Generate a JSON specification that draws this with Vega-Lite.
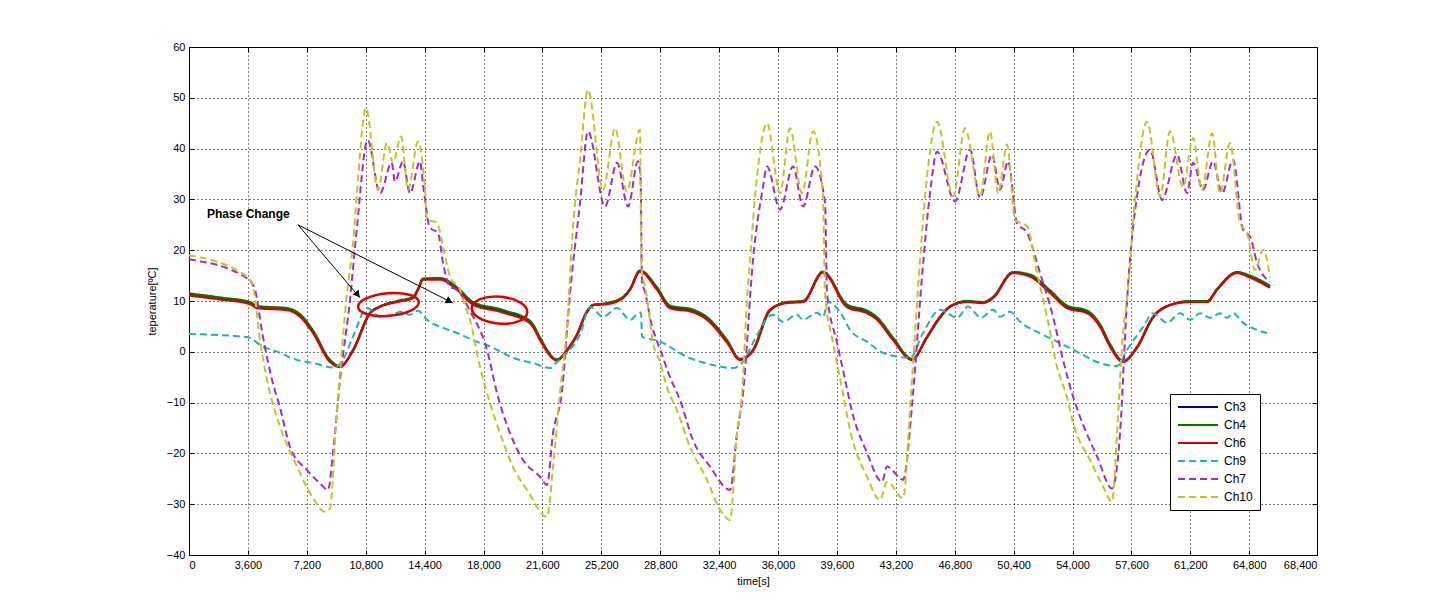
{
  "$schema": "https://vega.github.io/schema/vega-lite/v6.json",
  "width": 1128,
  "height": 508,
  "autosize": {"type": "none"},
  "padding": {"left": 189, "top": 47, "right": 139, "bottom": 44},
  "background": "white",
  "config": {
    "font": "Liberation Sans",
    "view": {"stroke": "black", "strokeWidth": 1},
    "axis": {
      "domain": false,
      "grid": true,
      "gridColor": "black",
      "gridDash": [1, 3],
      "gridOpacity": 1,
      "gridWidth": 1,
      "tickColor": "black",
      "tickSize": -5,
      "labelColor": "black",
      "labelFontSize": 11,
      "labelFont": "Liberation Sans",
      "titleFont": "Liberation Sans",
      "titleFontSize": 11,
      "titleFontWeight": "normal",
      "titleColor": "black"
    },
    "legend": {
      "orient": "none",
      "legendX": 981,
      "legendY": 347,
      "strokeColor": "black",
      "fillColor": "white",
      "padding": 7,
      "symbolType": "M-1,0H7",
      "symbolSize": 100,
      "symbolStrokeWidth": 2,
      "labelOffset": 35,
      "labelFontSize": 12,
      "labelFont": "Liberation Sans",
      "labelColor": "black",
      "rowPadding": 6,
      "title": null
    }
  },
  "resolve": {"axis": {"x": "independent", "y": "independent"}},
  "datasets": {
    "solid": [
      {"t": 0, "Ch3": 11.3, "Ch4": 11.5, "Ch6": 11.1},
      {"t": 1895, "Ch3": 10.5, "Ch4": 10.7, "Ch6": 10.3},
      {"t": 3728, "Ch3": 9.6, "Ch4": 9.8, "Ch6": 9.4},
      {"t": 4156, "Ch3": 8.8, "Ch4": 9.0, "Ch6": 8.6},
      {"t": 5990, "Ch3": 8.4, "Ch4": 8.6, "Ch6": 8.2},
      {"t": 6784, "Ch3": 7.2, "Ch4": 7.4, "Ch6": 6.9},
      {"t": 7579, "Ch3": 4.0, "Ch4": 4.2, "Ch6": 3.7},
      {"t": 8618, "Ch3": -1.8, "Ch4": -1.6, "Ch6": -2.0},
      {"t": 9229, "Ch3": -2.9, "Ch4": -2.8, "Ch6": -3.0},
      {"t": 10024, "Ch3": 0.3, "Ch4": 0.2, "Ch6": 0.4},
      {"t": 11063, "Ch3": 7.6, "Ch4": 7.5, "Ch6": 7.7},
      {"t": 11674, "Ch3": 8.9, "Ch4": 8.9, "Ch6": 8.9},
      {"t": 12713, "Ch3": 9.9, "Ch4": 10.0, "Ch6": 9.8},
      {"t": 13691, "Ch3": 10.7, "Ch4": 10.8, "Ch6": 10.6},
      {"t": 13996, "Ch3": 12.3, "Ch4": 12.4, "Ch6": 12.2},
      {"t": 14302, "Ch3": 14.3, "Ch4": 14.4, "Ch6": 14.2},
      {"t": 15341, "Ch3": 14.4, "Ch4": 14.5, "Ch6": 14.2},
      {"t": 16380, "Ch3": 12.5, "Ch4": 12.7, "Ch6": 12.2},
      {"t": 17358, "Ch3": 9.6, "Ch4": 9.8, "Ch6": 9.3},
      {"t": 19008, "Ch3": 8.2, "Ch4": 8.4, "Ch6": 7.9},
      {"t": 19620, "Ch3": 7.6, "Ch4": 7.8, "Ch6": 7.3},
      {"t": 20231, "Ch3": 7.0, "Ch4": 7.2, "Ch6": 6.7},
      {"t": 21025, "Ch3": 5.2, "Ch4": 5.4, "Ch6": 4.9},
      {"t": 21453, "Ch3": 2.6, "Ch4": 2.8, "Ch6": 2.3},
      {"t": 22492, "Ch3": -1.6, "Ch4": -1.5, "Ch6": -1.7},
      {"t": 23103, "Ch3": 0.3, "Ch4": 0.2, "Ch6": 0.4},
      {"t": 23715, "Ch3": 3.4, "Ch4": 3.3, "Ch6": 3.5},
      {"t": 24326, "Ch3": 7.9, "Ch4": 7.8, "Ch6": 8.0},
      {"t": 24692, "Ch3": 9.2, "Ch4": 9.2, "Ch6": 9.2},
      {"t": 25548, "Ch3": 9.5, "Ch4": 9.6, "Ch6": 9.4},
      {"t": 26526, "Ch3": 10.7, "Ch4": 10.8, "Ch6": 10.6},
      {"t": 26953, "Ch3": 12.3, "Ch4": 12.4, "Ch6": 12.2},
      {"t": 27564, "Ch3": 15.9, "Ch4": 16.0, "Ch6": 15.8},
      {"t": 28604, "Ch3": 12.5, "Ch4": 12.7, "Ch6": 12.2},
      {"t": 29398, "Ch3": 8.9, "Ch4": 9.1, "Ch6": 8.6},
      {"t": 30804, "Ch3": 8.1, "Ch4": 8.3, "Ch6": 7.8},
      {"t": 31660, "Ch3": 6.6, "Ch4": 6.8, "Ch6": 6.3},
      {"t": 32883, "Ch3": 2.1, "Ch4": 2.3, "Ch6": 1.8},
      {"t": 33677, "Ch3": -1.5, "Ch4": -1.4, "Ch6": -1.6},
      {"t": 34472, "Ch3": 0.3, "Ch4": 0.2, "Ch6": 0.4},
      {"t": 35510, "Ch3": 8.2, "Ch4": 8.1, "Ch6": 8.3},
      {"t": 36550, "Ch3": 9.7, "Ch4": 9.8, "Ch6": 9.6},
      {"t": 37528, "Ch3": 9.9, "Ch4": 10.0, "Ch6": 9.8},
      {"t": 38750, "Ch3": 15.7, "Ch4": 15.8, "Ch6": 15.6},
      {"t": 40217, "Ch3": 9.1, "Ch4": 9.3, "Ch6": 8.8},
      {"t": 41439, "Ch3": 7.9, "Ch4": 8.1, "Ch6": 7.6},
      {"t": 42051, "Ch3": 6.6, "Ch4": 6.8, "Ch6": 6.3},
      {"t": 43028, "Ch3": 2.6, "Ch4": 2.8, "Ch6": 2.3},
      {"t": 44190, "Ch3": -1.5, "Ch4": -1.4, "Ch6": -1.6},
      {"t": 45107, "Ch3": 2.9, "Ch4": 2.8, "Ch6": 3.0},
      {"t": 45901, "Ch3": 6.8, "Ch4": 6.7, "Ch6": 6.9},
      {"t": 46512, "Ch3": 8.9, "Ch4": 8.9, "Ch6": 8.9},
      {"t": 47551, "Ch3": 9.9, "Ch4": 10.0, "Ch6": 9.8},
      {"t": 48529, "Ch3": 9.7, "Ch4": 9.8, "Ch6": 9.6},
      {"t": 49140, "Ch3": 10.7, "Ch4": 10.8, "Ch6": 10.6},
      {"t": 50363, "Ch3": 15.6, "Ch4": 15.7, "Ch6": 15.5},
      {"t": 51402, "Ch3": 15.0, "Ch4": 15.2, "Ch6": 14.8},
      {"t": 52624, "Ch3": 11.9, "Ch4": 12.1, "Ch6": 11.6},
      {"t": 53664, "Ch3": 8.9, "Ch4": 9.1, "Ch6": 8.6},
      {"t": 54886, "Ch3": 7.9, "Ch4": 8.1, "Ch6": 7.6},
      {"t": 55680, "Ch3": 5.2, "Ch4": 5.4, "Ch6": 4.9},
      {"t": 56292, "Ch3": 1.3, "Ch4": 1.5, "Ch6": 1.0},
      {"t": 57086, "Ch3": -1.9, "Ch4": -1.8, "Ch6": -2.0},
      {"t": 57942, "Ch3": 0.9, "Ch4": 0.8, "Ch6": 1.0},
      {"t": 58920, "Ch3": 6.8, "Ch4": 6.7, "Ch6": 6.9},
      {"t": 59959, "Ch3": 9.2, "Ch4": 9.2, "Ch6": 9.2},
      {"t": 61181, "Ch3": 9.9, "Ch4": 10.0, "Ch6": 9.8},
      {"t": 62220, "Ch3": 9.9, "Ch4": 10.0, "Ch6": 9.8},
      {"t": 62832, "Ch3": 12.3, "Ch4": 12.4, "Ch6": 12.2},
      {"t": 64055, "Ch3": 15.6, "Ch4": 15.7, "Ch6": 15.5},
      {"t": 64849, "Ch3": 14.8, "Ch4": 15.0, "Ch6": 14.6},
      {"t": 66071, "Ch3": 12.8, "Ch4": 13.0, "Ch6": 12.6}
    ],
    "dashed": [
      {"series": "Ch9", "t": 0, "v": 3.5},
      {"series": "Ch9", "t": 3545, "v": 2.9},
      {"series": "Ch9", "t": 4523, "v": 1.0},
      {"series": "Ch9", "t": 5562, "v": -0.2},
      {"series": "Ch9", "t": 6601, "v": -1.6},
      {"series": "Ch9", "t": 7579, "v": -2.2},
      {"series": "Ch9", "t": 8801, "v": -3.1},
      {"series": "Ch9", "t": 9412, "v": -1.6},
      {"series": "Ch9", "t": 10024, "v": 3.0},
      {"series": "Ch9", "t": 10879, "v": 8.6},
      {"series": "Ch9", "t": 11674, "v": 6.9},
      {"series": "Ch9", "t": 12469, "v": 7.3},
      {"series": "Ch9", "t": 12896, "v": 7.9},
      {"series": "Ch9", "t": 13507, "v": 7.3},
      {"series": "Ch9", "t": 13996, "v": 8.1},
      {"series": "Ch9", "t": 14547, "v": 6.3},
      {"series": "Ch9", "t": 15524, "v": 4.7},
      {"series": "Ch9", "t": 16380, "v": 3.7},
      {"series": "Ch9", "t": 17358, "v": 2.3},
      {"series": "Ch9", "t": 18580, "v": 0.8},
      {"series": "Ch9", "t": 19803, "v": -1.2},
      {"series": "Ch9", "t": 21025, "v": -2.2},
      {"series": "Ch9", "t": 22064, "v": -3.2},
      {"series": "Ch9", "t": 22492, "v": -2.0},
      {"series": "Ch9", "t": 23103, "v": -0.2},
      {"series": "Ch9", "t": 23898, "v": 3.4},
      {"series": "Ch9", "t": 24509, "v": 8.8},
      {"series": "Ch9", "t": 25304, "v": 6.9},
      {"series": "Ch9", "t": 26159, "v": 8.6},
      {"series": "Ch9", "t": 26953, "v": 6.3},
      {"series": "Ch9", "t": 27564, "v": 7.7},
      {"series": "Ch9", "t": 27625, "v": 7.7},
      {"series": "Ch9", "t": 27687, "v": 3.0},
      {"series": "Ch9", "t": 28788, "v": 2.0},
      {"series": "Ch9", "t": 30438, "v": -1.0},
      {"series": "Ch9", "t": 32027, "v": -2.6},
      {"series": "Ch9", "t": 33249, "v": -3.2},
      {"series": "Ch9", "t": 33860, "v": -2.0},
      {"series": "Ch9", "t": 34472, "v": 1.8},
      {"series": "Ch9", "t": 35694, "v": 7.3},
      {"series": "Ch9", "t": 36305, "v": 5.9},
      {"series": "Ch9", "t": 37161, "v": 7.3},
      {"series": "Ch9", "t": 37528, "v": 6.3},
      {"series": "Ch9", "t": 38383, "v": 7.7},
      {"series": "Ch9", "t": 38750, "v": 6.9},
      {"series": "Ch9", "t": 39056, "v": 9.8},
      {"series": "Ch9", "t": 39972, "v": 6.9},
      {"series": "Ch9", "t": 40401, "v": 4.3},
      {"series": "Ch9", "t": 41439, "v": 2.0},
      {"series": "Ch9", "t": 42418, "v": -0.2},
      {"series": "Ch9", "t": 44068, "v": -1.2},
      {"series": "Ch9", "t": 44862, "v": 3.7},
      {"series": "Ch9", "t": 45901, "v": 8.3},
      {"series": "Ch9", "t": 46940, "v": 6.7},
      {"series": "Ch9", "t": 47612, "v": 8.9},
      {"series": "Ch9", "t": 48407, "v": 6.7},
      {"series": "Ch9", "t": 49140, "v": 8.3},
      {"series": "Ch9", "t": 49568, "v": 6.9},
      {"series": "Ch9", "t": 50180, "v": 7.9},
      {"series": "Ch9", "t": 50791, "v": 5.9},
      {"series": "Ch9", "t": 51830, "v": 3.9},
      {"series": "Ch9", "t": 53052, "v": 2.0},
      {"series": "Ch9", "t": 54275, "v": 0.0},
      {"series": "Ch9", "t": 55497, "v": -2.0},
      {"series": "Ch9", "t": 56720, "v": -2.8},
      {"series": "Ch9", "t": 57331, "v": 0.4},
      {"series": "Ch9", "t": 58309, "v": 4.9},
      {"series": "Ch9", "t": 58920, "v": 7.6},
      {"series": "Ch9", "t": 59776, "v": 5.7},
      {"series": "Ch9", "t": 60570, "v": 7.6},
      {"series": "Ch9", "t": 61181, "v": 6.3},
      {"series": "Ch9", "t": 61792, "v": 7.6},
      {"series": "Ch9", "t": 62404, "v": 6.7},
      {"series": "Ch9", "t": 63015, "v": 7.6},
      {"series": "Ch9", "t": 63443, "v": 6.7},
      {"series": "Ch9", "t": 63810, "v": 7.6},
      {"series": "Ch9", "t": 64421, "v": 5.7},
      {"series": "Ch9", "t": 65277, "v": 4.3},
      {"series": "Ch9", "t": 65888, "v": 3.7},

      {"series": "Ch7", "t": 0, "v": 18.2},
      {"series": "Ch7", "t": 3545, "v": 14.5},
      {"series": "Ch7", "t": 4034, "v": 12.2},
      {"series": "Ch7", "t": 4462, "v": 4.0},
      {"series": "Ch7", "t": 5073, "v": -5.5},
      {"series": "Ch7", "t": 5562, "v": -11.0},
      {"series": "Ch7", "t": 6173, "v": -18.7},
      {"series": "Ch7", "t": 7212, "v": -23.3},
      {"series": "Ch7", "t": 8007, "v": -25.9},
      {"series": "Ch7", "t": 8496, "v": -27.2},
      {"series": "Ch7", "t": 8801, "v": -19.9},
      {"series": "Ch7", "t": 9229, "v": -5.5},
      {"series": "Ch7", "t": 9840, "v": 10.2},
      {"series": "Ch7", "t": 10250, "v": 24.0},
      {"series": "Ch7", "t": 10920, "v": 41.7},
      {"series": "Ch7", "t": 11674, "v": 31.2},
      {"series": "Ch7", "t": 12389, "v": 37.2},
      {"series": "Ch7", "t": 12591, "v": 33.5},
      {"series": "Ch7", "t": 13080, "v": 37.5},
      {"series": "Ch7", "t": 13507, "v": 31.2},
      {"series": "Ch7", "t": 14119, "v": 37.5},
      {"series": "Ch7", "t": 14302, "v": 33.0},
      {"series": "Ch7", "t": 14730, "v": 24.4},
      {"series": "Ch7", "t": 15219, "v": 23.4},
      {"series": "Ch7", "t": 15524, "v": 17.5},
      {"series": "Ch7", "t": 15952, "v": 12.8},
      {"series": "Ch7", "t": 16380, "v": 12.2},
      {"series": "Ch7", "t": 17175, "v": 8.0},
      {"series": "Ch7", "t": 18214, "v": 0.4},
      {"series": "Ch7", "t": 18825, "v": -8.1},
      {"series": "Ch7", "t": 19620, "v": -16.0},
      {"series": "Ch7", "t": 20414, "v": -21.3},
      {"series": "Ch7", "t": 21453, "v": -24.6},
      {"series": "Ch7", "t": 21881, "v": -26.2},
      {"series": "Ch7", "t": 22248, "v": -16.0},
      {"series": "Ch7", "t": 22780, "v": -8.2},
      {"series": "Ch7", "t": 23287, "v": 11.5},
      {"series": "Ch7", "t": 23898, "v": 29.3},
      {"series": "Ch7", "t": 24387, "v": 43.4},
      {"series": "Ch7", "t": 25426, "v": 28.6},
      {"series": "Ch7", "t": 26159, "v": 37.2},
      {"series": "Ch7", "t": 26831, "v": 28.6},
      {"series": "Ch7", "t": 27442, "v": 37.5},
      {"series": "Ch7", "t": 27600, "v": 34.0},
      {"series": "Ch7", "t": 27690, "v": 13.0},
      {"series": "Ch7", "t": 27748, "v": 12.8},
      {"series": "Ch7", "t": 28298, "v": 5.0},
      {"series": "Ch7", "t": 28849, "v": 0.0},
      {"series": "Ch7", "t": 29398, "v": -5.0},
      {"series": "Ch7", "t": 30010, "v": -9.5},
      {"series": "Ch7", "t": 30804, "v": -17.4},
      {"series": "Ch7", "t": 31843, "v": -22.6},
      {"series": "Ch7", "t": 33066, "v": -27.2},
      {"series": "Ch7", "t": 33494, "v": -16.1},
      {"series": "Ch7", "t": 33860, "v": -8.2},
      {"series": "Ch7", "t": 34472, "v": 18.1},
      {"series": "Ch7", "t": 35083, "v": 32.5},
      {"series": "Ch7", "t": 35327, "v": 36.5},
      {"series": "Ch7", "t": 36122, "v": 28.0},
      {"series": "Ch7", "t": 36916, "v": 36.5},
      {"series": "Ch7", "t": 37528, "v": 28.6},
      {"series": "Ch7", "t": 38261, "v": 36.5},
      {"series": "Ch7", "t": 38872, "v": 29.3},
      {"series": "Ch7", "t": 38995, "v": 11.5},
      {"series": "Ch7", "t": 39606, "v": 1.8},
      {"series": "Ch7", "t": 40279, "v": -8.2},
      {"series": "Ch7", "t": 40401, "v": -10.1},
      {"series": "Ch7", "t": 41439, "v": -19.9},
      {"series": "Ch7", "t": 42356, "v": -25.6},
      {"series": "Ch7", "t": 42662, "v": -22.6},
      {"series": "Ch7", "t": 43640, "v": -25.2},
      {"series": "Ch7", "t": 44251, "v": -8.2},
      {"series": "Ch7", "t": 44801, "v": 14.8},
      {"series": "Ch7", "t": 45289, "v": 31.2},
      {"series": "Ch7", "t": 45717, "v": 39.4},
      {"series": "Ch7", "t": 46818, "v": 29.6},
      {"series": "Ch7", "t": 47735, "v": 39.8},
      {"series": "Ch7", "t": 48346, "v": 30.3},
      {"series": "Ch7", "t": 49079, "v": 38.8},
      {"series": "Ch7", "t": 49568, "v": 31.9},
      {"series": "Ch7", "t": 50057, "v": 37.5},
      {"series": "Ch7", "t": 50607, "v": 25.3},
      {"series": "Ch7", "t": 51219, "v": 23.4},
      {"series": "Ch7", "t": 52013, "v": 15.5},
      {"series": "Ch7", "t": 52808, "v": 6.9},
      {"series": "Ch7", "t": 53419, "v": -1.6},
      {"series": "Ch7", "t": 54030, "v": -8.8},
      {"series": "Ch7", "t": 54458, "v": -12.8},
      {"series": "Ch7", "t": 55497, "v": -20.6},
      {"series": "Ch7", "t": 56414, "v": -26.9},
      {"series": "Ch7", "t": 56903, "v": -16.0},
      {"series": "Ch7", "t": 57331, "v": 10.2},
      {"series": "Ch7", "t": 58003, "v": 32.0},
      {"series": "Ch7", "t": 58737, "v": 39.8},
      {"series": "Ch7", "t": 59470, "v": 29.9},
      {"series": "Ch7", "t": 60387, "v": 38.8},
      {"series": "Ch7", "t": 60998, "v": 31.2},
      {"series": "Ch7", "t": 61364, "v": 37.2},
      {"series": "Ch7", "t": 61976, "v": 31.9},
      {"series": "Ch7", "t": 62587, "v": 37.5},
      {"series": "Ch7", "t": 63138, "v": 31.2},
      {"series": "Ch7", "t": 63810, "v": 37.8},
      {"series": "Ch7", "t": 64421, "v": 24.0},
      {"series": "Ch7", "t": 64849, "v": 22.7},
      {"series": "Ch7", "t": 65277, "v": 17.5},
      {"series": "Ch7", "t": 66071, "v": 13.8},

      {"series": "Ch10", "t": 0, "v": 19.0},
      {"series": "Ch10", "t": 3545, "v": 14.8},
      {"series": "Ch10", "t": 3912, "v": 12.8},
      {"series": "Ch10", "t": 4340, "v": 2.3},
      {"series": "Ch10", "t": 4767, "v": -5.5},
      {"series": "Ch10", "t": 5562, "v": -14.7},
      {"series": "Ch10", "t": 6601, "v": -22.6},
      {"series": "Ch10", "t": 7579, "v": -28.8},
      {"series": "Ch10", "t": 8312, "v": -31.5},
      {"series": "Ch10", "t": 8618, "v": -30.8},
      {"series": "Ch10", "t": 9027, "v": -12.0},
      {"series": "Ch10", "t": 9229, "v": -4.0},
      {"series": "Ch10", "t": 9636, "v": 10.9},
      {"series": "Ch10", "t": 10044, "v": 22.0},
      {"series": "Ch10", "t": 10250, "v": 30.6},
      {"series": "Ch10", "t": 10818, "v": 48.0},
      {"series": "Ch10", "t": 11552, "v": 31.9},
      {"series": "Ch10", "t": 12102, "v": 41.1},
      {"series": "Ch10", "t": 12469, "v": 37.2},
      {"series": "Ch10", "t": 12960, "v": 42.4},
      {"series": "Ch10", "t": 13385, "v": 31.9},
      {"series": "Ch10", "t": 14000, "v": 41.4},
      {"series": "Ch10", "t": 14424, "v": 31.9},
      {"series": "Ch10", "t": 14547, "v": 26.0},
      {"series": "Ch10", "t": 15158, "v": 25.4},
      {"series": "Ch10", "t": 15524, "v": 20.7},
      {"series": "Ch10", "t": 15952, "v": 14.8},
      {"series": "Ch10", "t": 16564, "v": 12.2},
      {"series": "Ch10", "t": 16747, "v": 10.2},
      {"series": "Ch10", "t": 17175, "v": 6.3},
      {"series": "Ch10", "t": 17786, "v": -3.0},
      {"series": "Ch10", "t": 18397, "v": -10.1},
      {"series": "Ch10", "t": 19008, "v": -16.0},
      {"series": "Ch10", "t": 19803, "v": -22.7},
      {"series": "Ch10", "t": 20659, "v": -27.2},
      {"series": "Ch10", "t": 21881, "v": -32.5},
      {"series": "Ch10", "t": 22248, "v": -22.7},
      {"series": "Ch10", "t": 22675, "v": -8.0},
      {"series": "Ch10", "t": 23103, "v": 5.0},
      {"series": "Ch10", "t": 23470, "v": 24.7},
      {"series": "Ch10", "t": 23898, "v": 37.8},
      {"series": "Ch10", "t": 24387, "v": 51.6},
      {"series": "Ch10", "t": 25304, "v": 31.9},
      {"series": "Ch10", "t": 26037, "v": 44.0},
      {"series": "Ch10", "t": 26750, "v": 31.6},
      {"series": "Ch10", "t": 27564, "v": 43.7},
      {"series": "Ch10", "t": 27650, "v": 16.8},
      {"series": "Ch10", "t": 27950, "v": 11.5},
      {"series": "Ch10", "t": 28359, "v": 1.8},
      {"series": "Ch10", "t": 28788, "v": -2.0},
      {"series": "Ch10", "t": 29215, "v": -7.0},
      {"series": "Ch10", "t": 29826, "v": -11.5},
      {"series": "Ch10", "t": 30621, "v": -18.7},
      {"series": "Ch10", "t": 31660, "v": -25.2},
      {"series": "Ch10", "t": 32455, "v": -31.1},
      {"series": "Ch10", "t": 33066, "v": -33.1},
      {"series": "Ch10", "t": 33494, "v": -16.0},
      {"series": "Ch10", "t": 33800, "v": -8.2},
      {"series": "Ch10", "t": 34105, "v": 10.2},
      {"series": "Ch10", "t": 34288, "v": 18.1},
      {"series": "Ch10", "t": 34716, "v": 34.5},
      {"series": "Ch10", "t": 35327, "v": 45.0},
      {"series": "Ch10", "t": 36122, "v": 31.2},
      {"series": "Ch10", "t": 36733, "v": 44.0},
      {"series": "Ch10", "t": 37467, "v": 31.2},
      {"series": "Ch10", "t": 38139, "v": 43.4},
      {"series": "Ch10", "t": 38750, "v": 30.6},
      {"series": "Ch10", "t": 38872, "v": 11.5},
      {"series": "Ch10", "t": 39361, "v": 1.8},
      {"series": "Ch10", "t": 39972, "v": -8.2},
      {"series": "Ch10", "t": 40401, "v": -15.4},
      {"series": "Ch10", "t": 41439, "v": -24.6},
      {"series": "Ch10", "t": 42234, "v": -29.2},
      {"series": "Ch10", "t": 42662, "v": -25.6},
      {"series": "Ch10", "t": 43640, "v": -28.8},
      {"series": "Ch10", "t": 44129, "v": -8.2},
      {"series": "Ch10", "t": 44679, "v": 18.1},
      {"series": "Ch10", "t": 45107, "v": 34.5},
      {"series": "Ch10", "t": 45717, "v": 45.3},
      {"series": "Ch10", "t": 46695, "v": 30.6},
      {"series": "Ch10", "t": 47429, "v": 44.0},
      {"series": "Ch10", "t": 48346, "v": 30.6},
      {"series": "Ch10", "t": 48957, "v": 43.4},
      {"series": "Ch10", "t": 49446, "v": 31.2},
      {"series": "Ch10", "t": 49996, "v": 40.8},
      {"series": "Ch10", "t": 50485, "v": 26.0},
      {"series": "Ch10", "t": 51219, "v": 24.7},
      {"series": "Ch10", "t": 51830, "v": 15.5},
      {"series": "Ch10", "t": 52441, "v": 6.9},
      {"series": "Ch10", "t": 53052, "v": -3.0},
      {"series": "Ch10", "t": 53664, "v": -9.0},
      {"series": "Ch10", "t": 54030, "v": -14.0},
      {"series": "Ch10", "t": 55069, "v": -21.3},
      {"series": "Ch10", "t": 55864, "v": -26.5},
      {"series": "Ch10", "t": 56414, "v": -29.5},
      {"series": "Ch10", "t": 56720, "v": -16.0},
      {"series": "Ch10", "t": 57086, "v": 3.7},
      {"series": "Ch10", "t": 57331, "v": 10.2},
      {"series": "Ch10", "t": 57820, "v": 30.0},
      {"series": "Ch10", "t": 58553, "v": 45.3},
      {"series": "Ch10", "t": 59348, "v": 30.6},
      {"series": "Ch10", "t": 59959, "v": 43.4},
      {"series": "Ch10", "t": 60754, "v": 32.5},
      {"series": "Ch10", "t": 61364, "v": 42.1},
      {"series": "Ch10", "t": 61915, "v": 31.9},
      {"series": "Ch10", "t": 62526, "v": 43.0},
      {"series": "Ch10", "t": 63015, "v": 31.2},
      {"series": "Ch10", "t": 63627, "v": 41.1},
      {"series": "Ch10", "t": 64238, "v": 25.3},
      {"series": "Ch10", "t": 64666, "v": 23.4},
      {"series": "Ch10", "t": 65155, "v": 16.1},
      {"series": "Ch10", "t": 65644, "v": 20.1},
      {"series": "Ch10", "t": 66071, "v": 14.8}
    ]
  },
  "encoding": {
    "x": {
      "field": "t",
      "type": "quantitative",
      "scale": {"domain": [0, 68940], "nice": false, "zero": false},
      "axis": null
    },
    "y": {
      "field": "v",
      "type": "quantitative",
      "scale": {"domain": [-40, 60], "nice": false},
      "axis": null
    }
  },
  "layer": [
    {
      "data": {"name": "solid"},
      "transform": [{"fold": ["Ch3", "Ch4", "Ch6"], "as": ["series", "v"]}],
      "mark": {"type": "line", "interpolate": "monotone", "strokeWidth": 2.2},
      "encoding": {
        "x": {
          "field": "t",
          "type": "quantitative",
          "scale": {"domain": [0, 68940], "nice": false, "zero": false},
          "axis": {
            "title": "time[s]",
            "values": [0, 3600, 7200, 10800, 14400, 18000, 21600, 25200, 28800, 32400, 36000, 39600, 43200, 46800, 50400, 54000, 57600, 61200, 64800, 68940],
            "labelExpr": "datum.value > 66000 ? '68,400' : format(datum.value, ',')",
            "labelPadding": 9,
            "titlePadding": 5
          }
        },
        "y": {
          "field": "v",
          "type": "quantitative",
          "scale": {"domain": [-40, 60], "nice": false},
          "axis": {
            "title": "teperature[ºC]",
            "values": [-40, -30, -20, -10, 0, 10, 20, 30, 40, 50, 60],
            "labelPadding": 9,
            "titlePadding": 9
          }
        },
        "color": {
          "field": "series", "type": "nominal",
          "scale": {"domain": ["Ch3", "Ch4", "Ch6", "Ch9", "Ch7", "Ch10"], "range": ["#000099", "#007A00", "#DD0000", "#1FB5B5", "#A62BC4", "#C4C42A"]},
          "sort": ["Ch3", "Ch4", "Ch6", "Ch9", "Ch7", "Ch10"]
        },
        "strokeDash": {
          "field": "series", "type": "nominal",
          "scale": {"domain": ["Ch3", "Ch4", "Ch6", "Ch9", "Ch7", "Ch10"], "range": [[1, 0], [1, 0], [1, 0], [7, 4], [7, 4], [7, 4]]},
          "sort": ["Ch3", "Ch4", "Ch6", "Ch9", "Ch7", "Ch10"]
        }
      }
    },
    {
      "data": {"name": "dashed"},
      "mark": {"type": "line", "interpolate": "monotone", "strokeWidth": 2},
      "encoding": {
        "color": {"field": "series", "type": "nominal"},
        "strokeDash": {"field": "series", "type": "nominal"}
      }
    },
    {
      "data": {"values": [{"t": 6662, "v": 25.0, "t2": 10452, "v2": 10.6}, {"t": 6662, "v": 25.0, "t2": 16136, "v2": 9.6}]},
      "mark": {"type": "rule", "color": "black", "strokeWidth": 1},
      "encoding": {"x2": {"field": "t2"}, "y2": {"field": "v2"}}
    },
    {
      "data": {"values": [{"t": 10305, "v": 11.25}]},
      "mark": {"type": "point", "shape": "triangle-up", "filled": true, "color": "black", "size": 60, "angle": 142, "opacity": 1},
      "encoding": {}
    },
    {
      "data": {"values": [{"t": 15916, "v": 9.95}]},
      "mark": {"type": "point", "shape": "triangle-up", "filled": true, "color": "black", "size": 60, "angle": 117, "opacity": 1},
      "encoding": {}
    },
    {
      "data": {"values": [{"t": 12193, "v": 9.3}]},
      "mark": {"type": "point", "shape": "M-1,0C-1,-0.205,-0.552,-0.372,0,-0.372C0.552,-0.372,1,-0.205,1,0C1,0.205,0.552,0.372,0,0.372C-0.552,0.372,-1,0.205,-1,0Z", "filled": false, "color": "#E00000", "size": 3721, "strokeWidth": 2.5, "angle": -5, "opacity": 1},
      "encoding": {}
    },
    {
      "data": {"values": [{"t": 18978, "v": 8.2}]},
      "mark": {"type": "point", "shape": "M-1,0C-1,-0.268,-0.552,-0.485,0,-0.485C0.552,-0.485,1,-0.268,1,0C1,0.268,0.552,0.485,0,0.485C-0.552,0.485,-1,0.268,-1,0Z", "filled": false, "color": "#E00000", "size": 3100, "strokeWidth": 2.5, "angle": 5, "opacity": 1},
      "encoding": {}
    },
    {
      "data": {"values": [{"t": 1100, "v": 27.2, "label": "Phase Change"}]},
      "mark": {"type": "text", "align": "left", "baseline": "middle", "fontWeight": "bold", "fontSize": 12, "font": "Liberation Sans", "color": "black"},
      "encoding": {
        "text": {"field": "label"},
        "x": {
          "field": "t",
          "type": "quantitative",
          "axis": {
            "orient": "top",
            "grid": false,
            "labels": false,
            "title": null,
            "values": [0, 3600, 7200, 10800, 14400, 18000, 21600, 25200, 28800, 32400, 36000, 39600, 43200, 46800, 50400, 54000, 57600, 61200, 64800, 68940]
          }
        },
        "y": {
          "field": "v",
          "type": "quantitative",
          "axis": {
            "orient": "right",
            "grid": false,
            "labels": false,
            "title": null,
            "values": [-40, -30, -20, -10, 0, 10, 20, 30, 40, 50, 60]
          }
        }
      }
    }
  ]
}
